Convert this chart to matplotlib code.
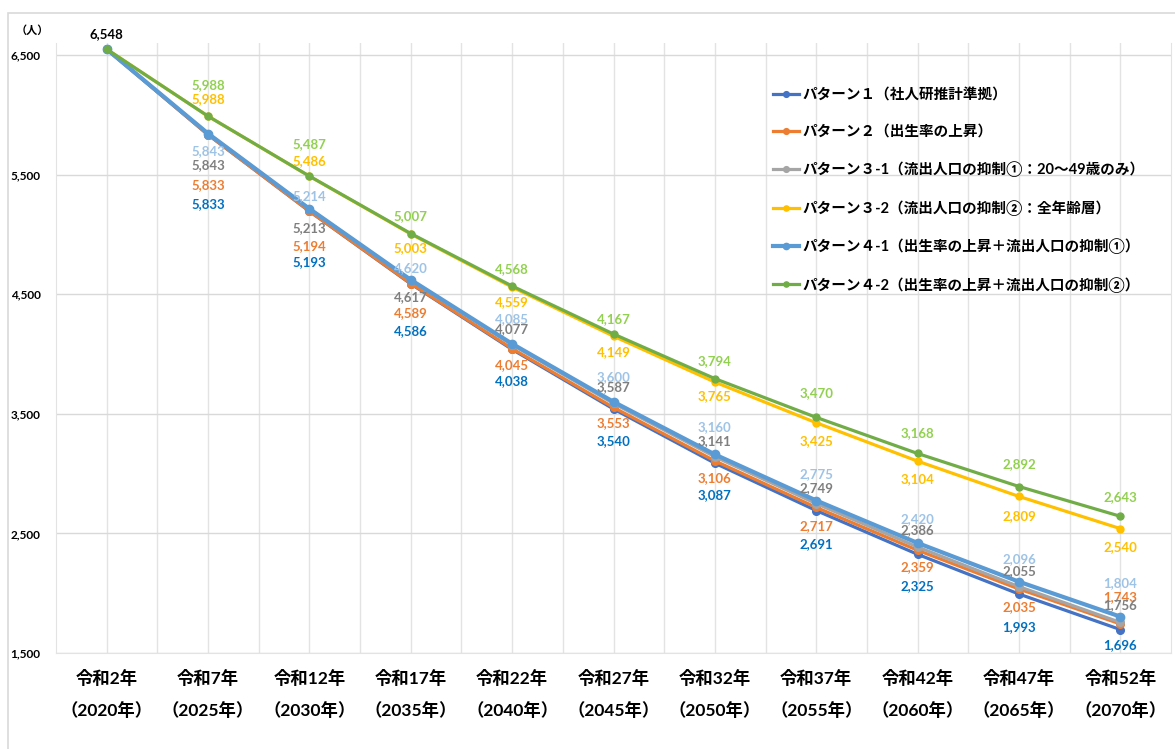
import matplotlib.pyplot as plt
from matplotlib.patches import Rectangle

plt.rcParams['font.family'] = ['Lato', 'Noto Sans CJK JP', 'DejaVu Sans']
plt.rcParams['font.weight'] = 'bold'

years_jp = ['令和2年', '令和7年', '令和12年', '令和17年', '令和22年', '令和27年',
            '令和32年', '令和37年', '令和42年', '令和47年', '令和52年']
years_ad = ['2020', '2025', '2030', '2035', '2040', '2045',
            '2050', '2055', '2060', '2065', '2070']

p1 = [6548, 5833, 5193, 4586, 4038, 3540, 3087, 2691, 2325, 1993, 1696]
p2 = [6548, 5833, 5194, 4589, 4045, 3553, 3106, 2717, 2359, 2035, 1743]
p3_1 = [6548, 5843, 5213, 4617, 4077, 3587, 3141, 2749, 2386, 2055, 1756]
p3_2 = [6548, 5988, 5486, 5003, 4559, 4149, 3765, 3425, 3104, 2809, 2540]
p4_1 = [6548, 5843, 5214, 4620, 4085, 3600, 3160, 2775, 2420, 2096, 1804]
p4_2 = [6548, 5988, 5487, 5007, 4568, 4167, 3794, 3470, 3168, 2892, 2643]

names = ['パターン１（社人研推計準拠）',
         'パターン２（出生率の上昇）',
         'パターン３-1（流出人口の抑制①：20～49歳のみ）',
         'パターン３-2（流出人口の抑制②：全年齢層）',
         'パターン４-1（出生率の上昇＋流出人口の抑制①）',
         'パターン４-2（出生率の上昇＋流出人口の抑制②）']

# (values, line colour, label colour, line width, marker size,
#  vertical label shift in px for points 2..11, + = down)
series = [
    (p1, '#4472C4', '#0070C0', 2.3, 5.5, [69, 51, 47, 32, 32, 32, 34, 32, 33, 16]),
    (p2, '#ED7D31', '#ED7D31', 2.3, 5.5, [50, 35, 30, 16, 16, 17, 19, 17, 18, -27]),
    (p3_1, '#A5A5A5', '#7F7F7F', 2.3, 5.5, [32, 19, 17, -16, -16, -16, -16, -17, -16, -17]),
    (p3_2, '#FFC000', '#FFC000', 2.3, 5.0, [-17, -15, 14, 15, 16, 14, 18, 18, 20, 18]),
    (p4_1, '#5B9BD5', '#9DC3E6', 3.0, 6.0, [18, -13, -12, -25, -25, -27, -26, -24, -23, -34]),
    (p4_2, '#70AD47', '#92D050', 2.3, 5.0, [-31, -32, -17, -17, -15, -18, -24, -20, -22, -19]),
]

fig = plt.figure(figsize=(11.75, 7.49), dpi=100)
fig.patches.append(Rectangle((8 / 1175, -0.05), 1.1, 1.05 - 13 / 749,
                             transform=fig.transFigure, fill=False,
                             edgecolor='#D9D9D9', linewidth=1.2))
ax = fig.add_axes([56 / 1175, 1 - 653 / 749, 1115 / 1175, 610 / 749])

x = list(range(len(years_jp)))
for (vals, lc, tc, lw, ms, dys), name in zip(series, names):
    ax.plot(x, vals, color=lc, linewidth=lw, marker='o', markersize=ms, label=name)
    for i, (v, dy) in enumerate(zip(vals[1:], dys), start=1):
        ax.annotate(f'{v:,}', (i, v), xytext=(0, -dy * 0.72), textcoords='offset points',
                    ha='center', va='center', fontsize=9.5, color=tc, fontweight='bold')

ax.annotate(f'{p1[0]:,}', (0, p1[0]), xytext=(0, 15 * 0.72), textcoords='offset points',
            ha='center', va='center', fontsize=9.5, color='black', fontweight='bold')

ax.set_xlim(-0.5, 10.5)
ax.set_ylim(1500, 6600)
ax.set_yticks(range(1500, 6501, 1000))
ax.set_yticklabels([f'{t:,}' for t in range(1500, 6501, 1000)], fontsize=8.5)
ax.set_xticks(x)
ax.set_xticklabels([f'{a}\n（{b}年）' for a, b in zip(years_jp, years_ad)],
                   fontsize=12.5, linespacing=2.05)
ax.set_xticks([i + 0.5 for i in x[:-1]], minor=True)
ax.grid(True, which='both', axis='x', color='#E3E3E3', linewidth=1)
ax.grid(True, which='major', axis='y', color='#D9D9D9', linewidth=1)
ax.set_axisbelow(True)
ax.tick_params(axis='both', which='both', length=0)
ax.tick_params(axis='x', pad=12.5)
ax.tick_params(axis='y', pad=11)
ax.spines['top'].set_visible(False)
for s in ['left', 'right', 'bottom']:
    ax.spines[s].set_color('#E3E3E3')

fig.text(32 / 1175, 1 - 30 / 749, '（人）', fontsize=8, ha='center', va='center')

ax.legend(loc='upper left', bbox_to_anchor=(0.643, 0.926), frameon=False,
          fontsize=10.5, handlelength=1.8, handletextpad=0.2, labelspacing=1.55,
          borderpad=0, borderaxespad=0, markerscale=0.75)

fig.savefig('out.png', dpi=100)
